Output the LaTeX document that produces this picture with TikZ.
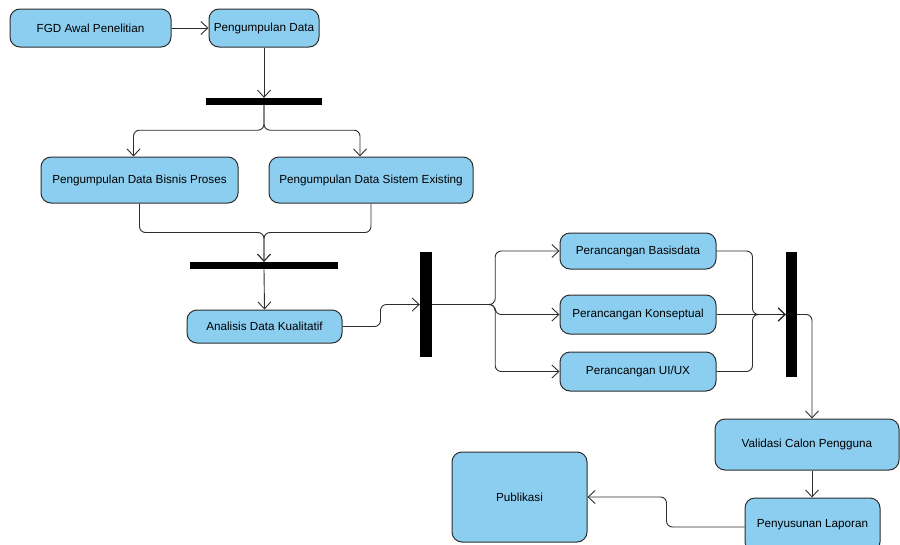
\documentclass[tikz,border=0pt]{standalone}
\usepackage{fontspec}
\setmainfont{Liberation Sans}
\usetikzlibrary{arrows.meta}
\definecolor{actfill}{RGB}{140,206,240}
\definecolor{actline}{RGB}{45,45,45}
\begin{document}
\begin{tikzpicture}[x=1pt,y=-1pt,
  act/.style={draw=actline, fill=actfill, rounded corners=10pt, line width=1pt,
    inner sep=0pt, align=center, font=\fontsize{11.7}{14}\selectfont},
  bar/.style={fill=black, inner sep=0pt},
  flow/.style={draw=actline, line width=0.9pt, rounded corners=6pt,
    -{Straight Barb[length=7pt,width=13pt,line width=0.9pt]}}
]
\useasboundingbox (0,0) rectangle (900,544);

% activities
\node[act, minimum width=161pt, minimum height=38pt] (fgd)  at (90.5,28)  {FGD Awal Penelitian};
\node[act, minimum width=110pt, minimum height=38pt] (pd)   at (264,28)   {Pengumpulan Data};
\node[act, minimum width=197pt, minimum height=46pt] (pbp)  at (139.5,180) {Pengumpulan Data Bisnis Proses};
\node[act, minimum width=204pt, minimum height=46pt] (pdse) at (371,180)  {Pengumpulan Data Sistem Existing};
\node[act, minimum width=155pt, minimum height=33pt] (ana)  at (264.5,326.5) {Analisis Data Kualitatif};
\node[act, minimum width=156pt, minimum height=36pt] (pb)   at (638,251)  {Perancangan Basisdata};
\node[act, minimum width=156pt, minimum height=39pt] (pk)   at (638,314.5) {Perancangan Konseptual};
\node[act, minimum width=156pt, minimum height=39pt] (pu)   at (638,371.5) {Perancangan UI/UX};
\node[act, minimum width=184pt, minimum height=51pt] (val)  at (807,444.5) {Validasi Calon Pengguna};
\node[act, minimum width=135pt, minimum height=90pt] (pub)  at (519.5,497) {Publikasi};
\node[act, minimum width=135pt, minimum height=54pt] (lap)  at (812.5,525) {Penyusunan Laporan};

% fork and join bars
\node[bar, minimum width=116pt, minimum height=7pt]  (bar1) at (264,101.5) {};
\node[bar, minimum width=148pt, minimum height=7pt]  (bar2) at (264,265.5) {};
\node[bar, minimum width=12pt,  minimum height=105pt] (bar3) at (426,304.5) {};
\node[bar, minimum width=11pt,  minimum height=125pt] (bar4) at (791.5,314.5) {};

% control flow
\draw[flow] (fgd) -- (pd);
\draw[flow] (pd.south) -- (bar1.north);
\draw[flow] (bar1.south) -- ++(0,25) -| ([xshift=-6pt]pbp.north);
\draw[flow] (bar1.south) -- ++(0,25) -| ([xshift=-11pt]pdse.north);
\draw[flow] (pbp.south) -- ++(0,29) -| (bar2.north);
\draw[flow] (pdse.south) -- ++(0,29) -| (bar2.north);
\draw[flow] (bar2.south) -- (ana.north);
\draw[flow] (ana.east) -- ++(38,0) |- (bar3.west);
\draw[flow] (bar3.east) -- ++(63,0) |- (pb.west);
\draw[flow] (bar3.east) -- ++(63,0) |- (pk.west);
\draw[flow] (bar3.east) -- ++(63,0) |- (pu.west);
\draw[flow] (pb.east) -- ++(36,0) |- (bar4.west);
\draw[flow] (pk.east) -- (bar4.west);
\draw[flow] (pu.east) -- ++(36,0) |- (bar4.west);
\draw[flow] (bar4.east) -| ([xshift=5pt]val.north);
\draw[flow] ([xshift=5pt]val.south) -- ([xshift=-0.5pt]lap.north);
\draw[flow] ([yshift=-2pt]lap.west) -- ++(-78,0) |- (pub.east);
\end{tikzpicture}
\end{document}
